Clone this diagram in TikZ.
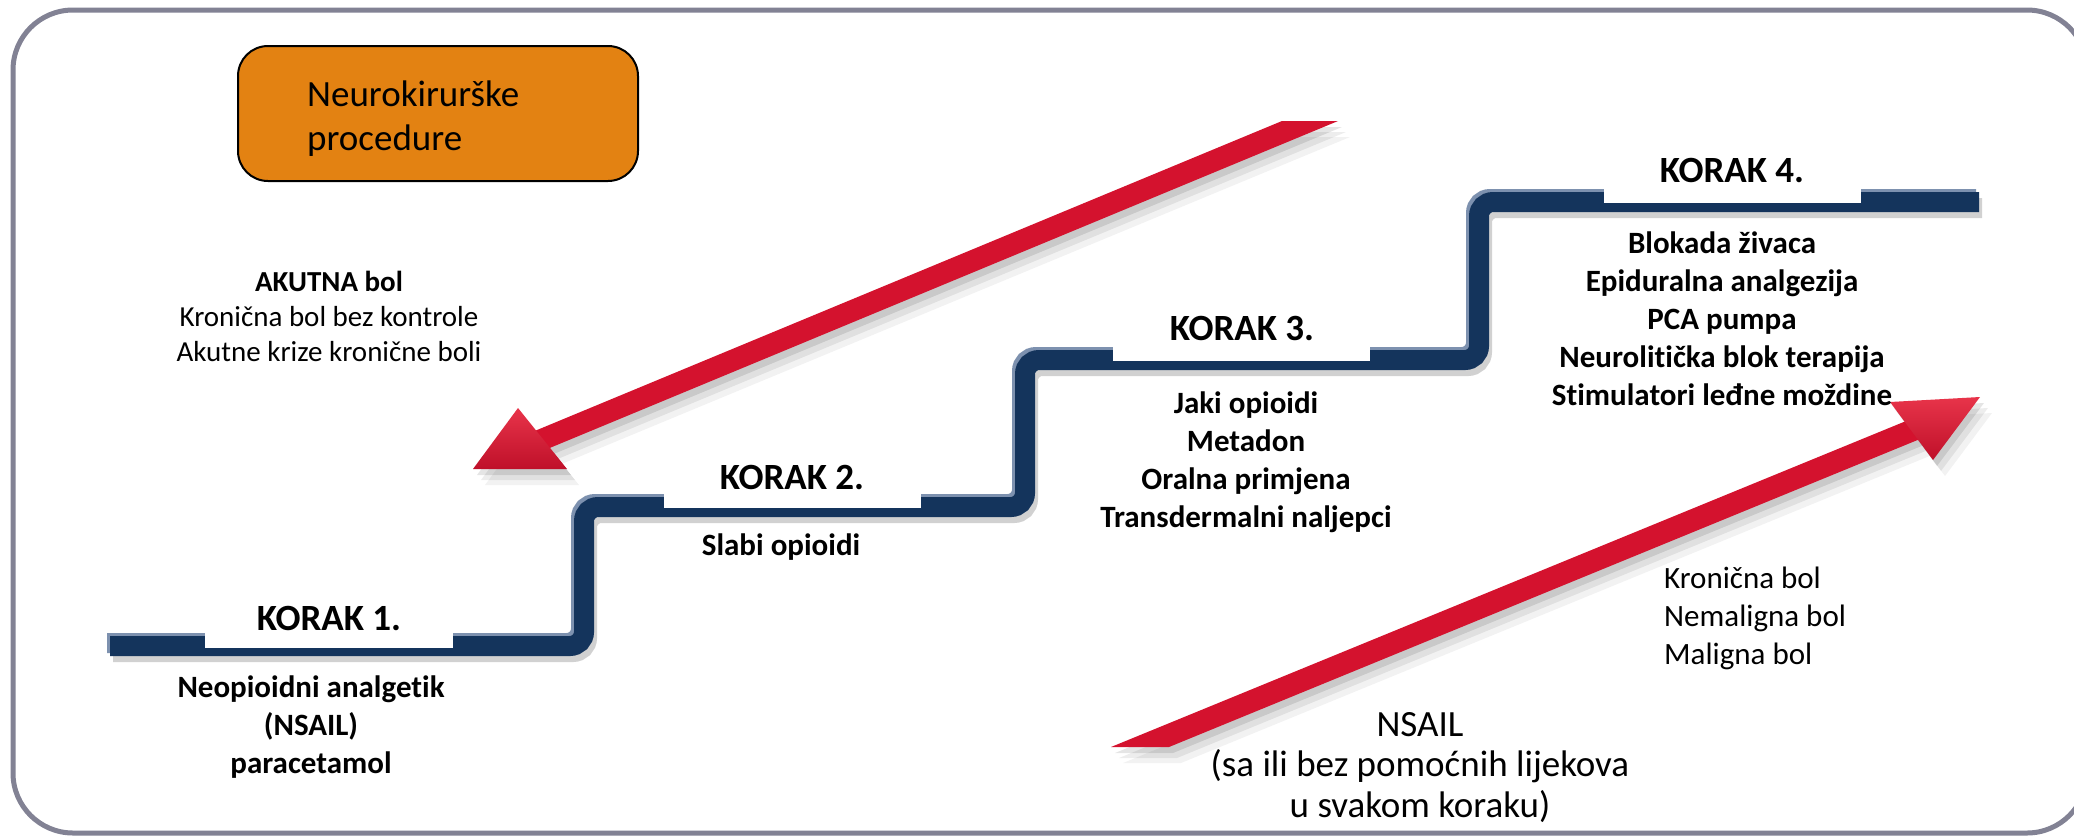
\documentclass[tikz,border=0pt]{standalone}
\usepackage{fontspec}
\setmainfont{Carlito}[Ligatures={NoCommon}]
\definecolor{navy}{RGB}{20,52,92}
\definecolor{navylight}{RGB}{125,145,175}
\definecolor{arrred}{RGB}{212,18,46}
\definecolor{arrredlight}{RGB}{232,52,74}
\definecolor{boxorange}{RGB}{227,130,18}
\definecolor{bordergray}{RGB}{130,130,148}
\newcommand\linesc[1]{\vtop{\halign{\hfil##\hfil\cr#1\crcr}}}
\newcommand\linesl[1]{\vtop{\halign{##\hfil\cr#1\crcr}}}
\tikzset{
  txt/.style={inner sep=0pt, anchor=base},
  bigtxt/.style={txt, font=\fontsize{37}{40.5}\selectfont},
  korak/.style={txt, font=\fontsize{37}{44}\selectfont\bfseries},
  steptxt/.style={txt, font=\fontsize{31}{38}\selectfont\bfseries},
  sidetxt/.style={txt, font=\fontsize{31}{38}\selectfont},
  acutetxt/.style={txt, font=\fontsize{29}{35}\selectfont},
  orbox/.style={draw=black, line width=2pt, fill=boxorange, rounded corners=30pt, inner sep=0pt},
  stair/.style={line width=20pt, rounded corners=14pt, line cap=butt},
  gapbox/.style={fill=white, draw=none},
  arrowbody/.style={fill=arrred},
  arrowhead/.style={top color=arrredlight, bottom color=arrred!90!black},
}
\begin{document}
\begin{tikzpicture}[x=1pt,y=-1pt]
\useasboundingbox (0,0) rectangle (2074,836);
\fill[white] (0,0) rectangle (2074,836);
% frame
\draw[bordergray, line width=5pt, rounded corners=60pt] (13,10) rectangle (2087,833);

% orange box
\node[orbox, minimum width=400pt, minimum height=135pt] (nkbox) at (438,113.5) {};
\node[txt, anchor=base west, font=\fontsize{37}{44}\selectfont] (nktext) at (307,106) {\linesl{Neurokirurške\cr procedure}};

% staircase: shadow, highlight, body
\draw[stair, black, opacity=0.18, shift={(3,6)}]
  (110,646) -- (584,646) -- (584,507) -- (1025,507) -- (1025,360) -- (1479,360) -- (1479,202) -- (1979,202);
\draw[stair, navylight, shift={(-3,-3)}]
  (110,646) -- (584,646) -- (584,507) -- (1025,507) -- (1025,360) -- (1479,360) -- (1479,202) -- (1979,202);
\draw[stair, navy]
  (110,646) -- (584,646) -- (584,507) -- (1025,507) -- (1025,360) -- (1479,360) -- (1479,202) -- (1979,202);

% white label gaps on the steps
\fill[gapbox] (205,615) rectangle (453,648);
\fill[gapbox] (664,475) rectangle (921,508);
\fill[gapbox] (1113,328) rectangle (1370,361);
\fill[gapbox] (1604,170) rectangle (1861,203);

% arrow shadows
\foreach \dx/\dy/\op in {4/6/0.10, 8/11/0.07, 12/16/0.05}{
  \fill[black, opacity=\op, shift={(\dx,\dy)}] (1282,121) -- (1338,121) -- (540,452) -- (525,435) -- cycle;
  \fill[black, opacity=\op, shift={(\dx,\dy)}] (518,408) -- (473,469) -- (567,469) -- cycle;
  \fill[black, opacity=\op, shift={(\dx,\dy)}] (1111,747) -- (1169,747) -- (1920,439) -- (1910,419.4) -- cycle;
  \fill[black, opacity=\op, shift={(\dx,\dy)}] (1890,402) -- (1980,397) -- (1933,460) -- cycle;
}
% arrow 1 (down-left)
\fill[arrowbody] (1282,121) -- (1338,121) -- (540,452) -- (525,435) -- cycle;
\shade[arrowhead] (518,408) -- (473,469) -- (567,469) -- cycle;
% arrow 2 (up-right)
\fill[arrowbody] (1111,747) -- (1169,747) -- (1920,439) -- (1910,419.4) -- cycle;
\shade[arrowhead] (1890,402) -- (1980,397) -- (1933,460) -- cycle;

% texts
\node[acutetxt] (akutna) at (329,291) {\linesc{\bfseries AKUTNA bol\cr Kronična bol bez kontrole\cr Akutne krize kronične boli}};
\node[korak] (k1) at (329,630) {KORAK 1.};
\node[korak] (k2) at (792,489) {KORAK 2.};
\node[korak] (k3) at (1242,340) {KORAK 3.};
\node[korak] (k4) at (1732,182) {KORAK 4.};
\node[steptxt] (s1) at (311,697) {\linesc{Neopioidni analgetik\cr (NSAIL)\cr paracetamol}};
\node[steptxt] (s2) at (781,555) {Slabi opioidi};
\node[steptxt] (s3) at (1246,413) {\linesc{Jaki opioidi\cr Metadon\cr Oralna primjena\cr Transdermalni naljepci}};
\node[steptxt] (s4) at (1722,253) {\linesc{Blokada živaca\cr Epiduralna analgezija\cr PCA pumpa\cr Neurolitička blok terapija\cr Stimulatori leđne moždine}};
\node[sidetxt, anchor=base west] (bol) at (1664,588) {\linesl{Kronična bol\cr Nemaligna bol\cr Maligna bol}};
\node[bigtxt] (nsail) at (1420,736) {\linesc{NSAIL\cr (sa ili bez pomoćnih lijekova\cr u svakom koraku)}};
\end{tikzpicture}
\end{document}
